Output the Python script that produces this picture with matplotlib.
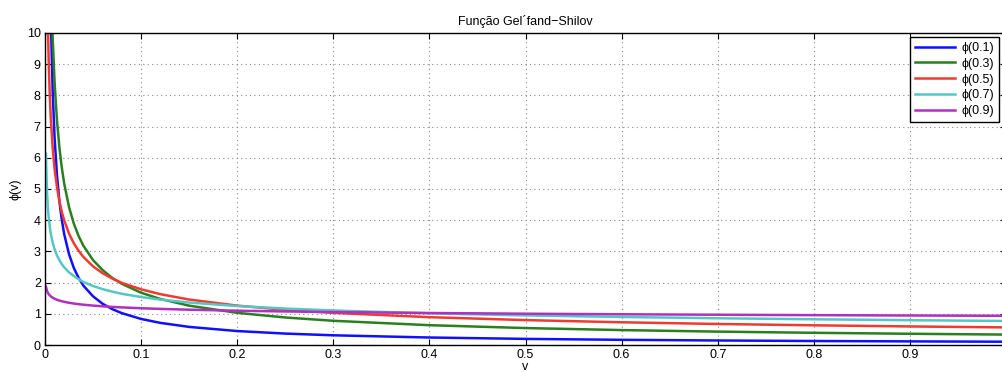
import matplotlib
matplotlib.use("Agg")
import matplotlib.pyplot as plt

plt.rcParams['font.family'] = ['Liberation Sans', 'DejaVu Sans']

v = [0.001, 0.002, 0.003, 0.004, 0.005, 0.006, 0.008, 0.01, 0.0125, 0.015,
     0.0175, 0.02, 0.025, 0.03, 0.035, 0.04, 0.05, 0.06, 0.07, 0.08,
     0.1, 0.12, 0.15, 0.2, 0.25, 0.3, 0.4, 0.5, 0.6, 0.7, 0.8, 0.9, 1.0]

phi_01 = [52.7, 28.2, 19.6, 15.13, 12.38, 10.50, 8.11, 6.63, 5.43, 4.60,
          4.01, 3.55, 2.91, 2.47, 2.15, 1.90, 1.56, 1.32, 1.15, 1.02,
          0.835, 0.709, 0.580, 0.447, 0.366, 0.311, 0.240, 0.196, 0.166, 0.145, 0.128, 0.116, 0.105]
phi_03 = [42.1, 25.9, 19.50, 15.95, 13.64, 12.00, 9.82, 8.40, 7.18, 6.32,
          5.68, 5.17, 4.42, 3.89, 3.49, 3.18, 2.72, 2.40, 2.15, 1.96,
          1.675, 1.475, 1.261, 1.031, 0.882, 0.776, 0.635, 0.543, 0.478, 0.429, 0.391, 0.360, 0.334]
phi_05 = [17.84, 12.62, 10.30, 8.92, 7.98, 7.28, 6.31, 5.64, 5.05, 4.61,
          4.26, 3.99, 3.57, 3.26, 3.02, 2.82, 2.52, 2.30, 2.13, 1.99,
          1.784, 1.629, 1.457, 1.262, 1.128, 1.030, 0.892, 0.798, 0.728, 0.674, 0.631, 0.595, 0.564]
phi_07 = [6.12, 4.97, 4.40, 4.04, 3.78, 3.57, 3.28, 3.07, 2.87, 2.72,
          2.59, 2.49, 2.33, 2.21, 2.11, 2.02, 1.89, 1.79, 1.71, 1.64,
          1.537, 1.455, 1.361, 1.248, 1.168, 1.106, 1.014, 0.948, 0.898, 0.857, 0.824, 0.795, 0.770]
phi_09 = [1.867, 1.742, 1.673, 1.625, 1.589, 1.561, 1.517, 1.483, 1.450, 1.424,
          1.402, 1.384, 1.353, 1.329, 1.308, 1.291, 1.263, 1.240, 1.221, 1.205,
          1.178, 1.157, 1.131, 1.099, 1.075, 1.055, 1.026, 1.003, 0.985, 0.970, 0.957, 0.946, 0.936]

series = [phi_01, phi_03, phi_05, phi_07, phi_09]
labels = ['ϕ(0.1)', 'ϕ(0.3)', 'ϕ(0.5)', 'ϕ(0.7)', 'ϕ(0.9)']
colors = ['#1010ff', '#2a7f1e', '#f03a30', '#55c6c6', '#b030c0']

xticks = [0, 0.1, 0.2, 0.3, 0.4, 0.5, 0.6, 0.7, 0.8, 0.9]
xticklabels = ['0', '0.1', '0.2', '0.3', '0.4', '0.5', '0.6', '0.7', '0.8', '0.9']
yticks = list(range(0, 11))

fig = plt.figure(figsize=(10.03, 3.72), dpi=100)
ax = fig.add_axes([45/1003, 27/372, 961/1003, 312/372])

for ys, lab, c in zip(series, labels, colors):
    ax.plot(v, ys, color=c, lw=1.8, label=lab, solid_joinstyle='round')

ax.set_xlim(0, 1)
ax.set_ylim(0, 10)
ax.set_xticks(xticks)
ax.set_xticklabels(xticklabels)
ax.set_yticks(yticks)
ax.tick_params(direction='in', top=True, right=True, labelsize=9, length=4, width=0.8, pad=3)
ax.grid(True, linestyle=(0, (1, 3)), color='#888888', lw=0.8)
for s in ax.spines.values():
    s.set_linewidth(1.0)
    s.set_color('black')

ax.set_title('Função Gel´fand−Shilov', fontsize=9, pad=6)
ax.set_ylabel('ϕ(v)', fontsize=9, labelpad=4)
ax.set_xlabel('v', fontsize=9, labelpad=0)

leg = ax.legend(loc='upper right', bbox_to_anchor=(999/1003, 1 - 37/372),
                bbox_transform=fig.transFigure, fontsize=9, fancybox=False,
                framealpha=1, edgecolor='black', handlelength=3.2,
                borderpad=0.4, labelspacing=0.3, handletextpad=0.5,
                borderaxespad=0)
leg.get_frame().set_linewidth(1.0)

fig.savefig('out.png', dpi=100)
